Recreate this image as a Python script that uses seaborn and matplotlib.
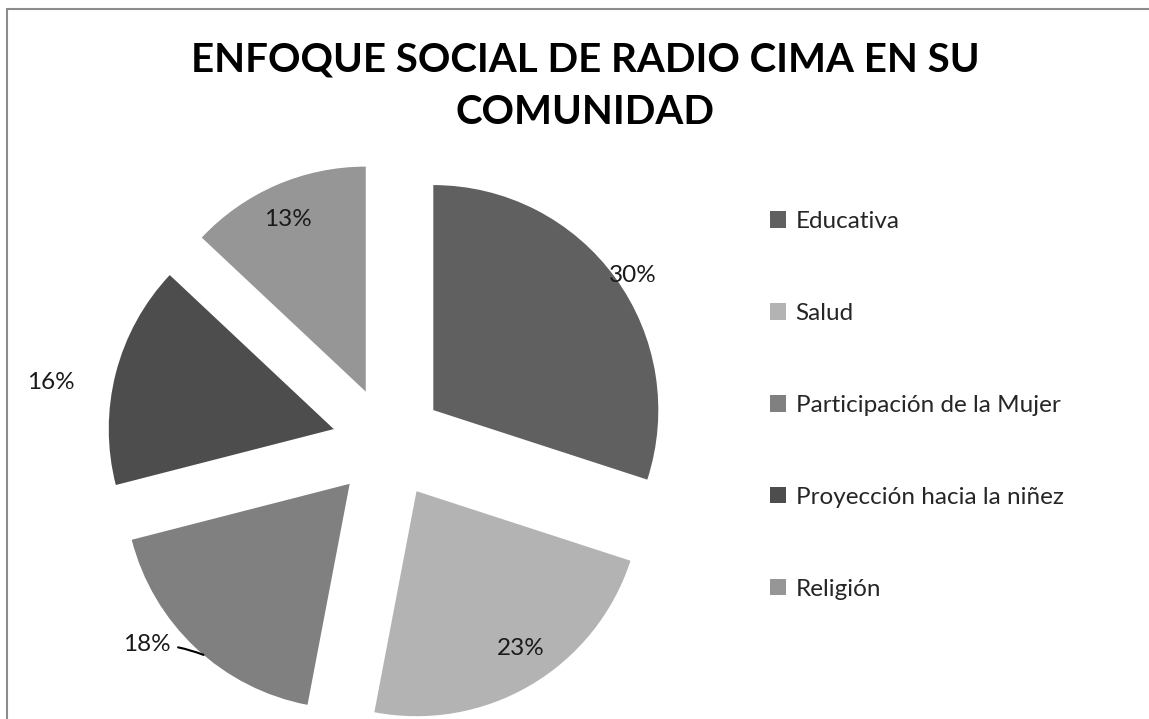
import numpy as np
import matplotlib
matplotlib.use("Agg")
import matplotlib.pyplot as plt
import seaborn as sns

# data
categorias = ["Educativa", "Salud", "Participación de la Mujer",
              "Proyección hacia la niñez", "Religión"]
porcentajes = [30, 23, 18, 16, 13]
etiquetas = ["30%", "23%", "18%", "16%", "13%"]
colores = ["#606060", "#b3b3b3", "#808080", "#4d4d4d", "#969696"]

# label placement (angle in degrees, distance in radii from the slice apex)
lab_ang = [34, -56.5, -141.6, 170.6, 114.4]
lab_dist = [1.07, 0.84, 1.15, 1.275, 0.84]

sns.set_theme(style="white")
plt.rcParams['font.family'] = ['Lato', 'DejaVu Sans']

W, H = 1149, 719
fig = plt.figure(figsize=(W / 100, H / 100), dpi=100)
ax = fig.add_axes([0, 0, 1, 1])

radio = 225
centro = (388, H - 443)
wedges, _ = ax.pie(porcentajes, colors=colores, startangle=90, counterclock=False,
                   radius=radio, center=centro, explode=[56] * len(porcentajes),
                   wedgeprops=dict(linewidth=0))
ax.set_xlim(0, W)
ax.set_ylim(0, H)
ax.set_aspect('equal')
ax.axis('off')

fs = 17.5
for w, txt, a, d in zip(wedges, etiquetas, lab_ang, lab_dist):
    cx, cy = w.center
    x = cx + radio * d * np.cos(np.radians(a))
    y = cy + radio * d * np.sin(np.radians(a))
    if txt == "18%":
        # leader line to the arc
        t = np.radians(-130.5)
        ax.annotate(txt, xy=(cx + radio * np.cos(t), cy + radio * np.sin(t)), xytext=(x, y),
                    ha='center', va='center', fontsize=fs, color='#1a1a1a',
                    arrowprops=dict(arrowstyle='-', color='black', lw=1.5,
                                    connectionstyle="arc3,rad=-0.1", shrinkA=3, shrinkB=0))
    else:
        ax.text(x, y, txt, ha='center', va='center', fontsize=fs, color='#1a1a1a')

ax.text(585, H - 60, "ENFOQUE SOCIAL DE RADIO CIMA EN SU", ha='center', va='center',
        fontsize=29, fontweight='bold', color='black')
ax.text(585, H - 113, "COMUNIDAD", ha='center', va='center',
        fontsize=29, fontweight='bold', color='black')

leg = ax.legend(wedges, categorias, loc='upper left', bbox_to_anchor=(770 / W, 1 - 211 / H),
                frameon=False, fontsize=fs, labelspacing=2.92, handlelength=0.65,
                handleheight=0.65, handletextpad=0.4, borderaxespad=0, borderpad=0)
for t in leg.get_texts():
    t.set_color('#262626')

# chart area border (top and left visible)
ax.add_patch(plt.Rectangle((7, -10), W + 20, H - 9 + 10, fill=False,
                           edgecolor='#8c8c8c', lw=1.5, clip_on=False))

fig.savefig("out.png", dpi=100, facecolor='white')
